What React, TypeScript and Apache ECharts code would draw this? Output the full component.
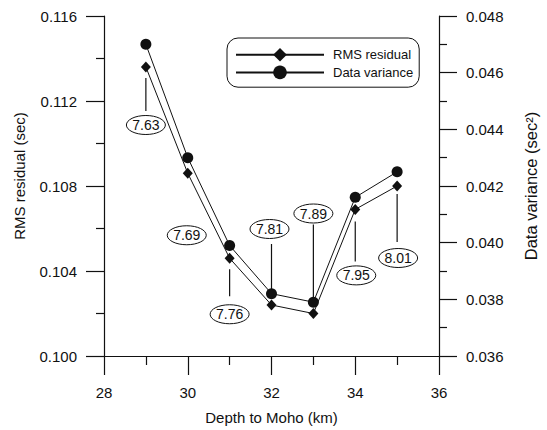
import React, { useEffect, useRef } from "react";
import * as echarts from "echarts";

const depths = [29, 30, 31, 32, 33, 34, 35];
const rmsResidual = [0.1136, 0.1086, 0.1046, 0.1024, 0.102, 0.1069, 0.108];
const dataVariance = [0.047, 0.043, 0.0399, 0.0382, 0.0379, 0.0416, 0.0425];
const velocityLabels = ["7.63", "7.69", "7.76", "7.81", "7.89", "7.95", "8.01"];

const seriesNames = ["RMS residual", "Data variance"];
const xTitle = "Depth to Moho (km)";
const yLeftTitle = "RMS residual (sec)";
const yRightTitle = "Data variance (sec\u00B2)";

// callout layout in pixels relative to the RMS point: [dx, dy, leaderFrom, leaderTo]
const calloutLayout: (number | null)[][] = [
  [0, 58, 11, 44],
  [-1, 62, null, null],
  [0, 56, 11, 38],
  [-2, -76, -61, -14],
  [0, -100, -89, -16],
  [1, 66, 12, 52],
  [1, 72, 8, 56],
];

const FONT = "'Liberation Sans', Arial, Helvetica, sans-serif";
const INK = "#111";

export default function App() {
  const ref = useRef<HTMLDivElement>(null);
  useEffect(() => {
    if (!ref.current) return;
    const chart = echarts.init(ref.current, null, { renderer: "svg" });
    const axisCommon = {
      axisLine: { show: true, onZero: false, lineStyle: { color: INK, width: 1.2 } },
      axisTick: { show: true, inside: false, length: 18, lineStyle: { color: INK, width: 1.2 } },
      minorTick: { show: true, splitNumber: 2, length: 9, lineStyle: { color: INK, width: 1.2 } },
      splitLine: { show: false },
      minorSplitLine: { show: false },
    };
    chart.setOption({
      animation: false,
      backgroundColor: "#fff",
      textStyle: { fontFamily: FONT, color: INK },
      grid: { left: 104, right: 104, top: 16, bottom: 73, containLabel: false },
      legend: {
        data: seriesNames,
        orient: "vertical",
        left: 227,
        top: 38,
        padding: [10, 6, 8, 8],
        itemWidth: 88,
        itemHeight: 17,
        itemGap: 4,
        borderColor: INK,
        borderWidth: 1,
        borderRadius: 11,
        textStyle: { fontSize: 13, color: INK, fontFamily: FONT, padding: [0, 0, 0, 4] },
      },
      xAxis: {
        type: "value",
        min: 28,
        max: 36,
        interval: 2,
        name: xTitle,
        nameLocation: "middle",
        nameGap: 54,
        nameTextStyle: { fontSize: 15, color: INK, fontFamily: FONT },
        axisLabel: { fontSize: 15, color: INK, margin: 29, fontFamily: FONT },
        ...axisCommon,
        axisTick: { show: true, length: 19, lineStyle: { color: INK, width: 1.2 } },
      },
      yAxis: [
        {
          type: "value",
          position: "left",
          min: 0.1,
          max: 0.116,
          interval: 0.004,
          name: yLeftTitle,
          nameLocation: "middle",
          nameGap: 77,
          nameTextStyle: { fontSize: 15, color: INK, fontFamily: FONT, padding: [0, 0, 0, 20] },
          axisLabel: {
            fontSize: 15,
            color: INK,
            margin: 27,
            fontFamily: FONT,
            formatter: (v: number) => v.toFixed(3),
          },
          ...axisCommon,
          minorTick: { show: true, splitNumber: 2, length: 8, lineStyle: { color: INK, width: 1.2 } },
        },
        {
          type: "value",
          position: "right",
          min: 0.036,
          max: 0.048,
          interval: 0.002,
          name: yRightTitle,
          nameLocation: "middle",
          nameGap: 83,
          nameTextStyle: { fontSize: 16.5, color: INK, fontFamily: FONT },
          axisLabel: {
            fontSize: 15,
            color: INK,
            margin: 27,
            fontFamily: FONT,
            formatter: (v: number) => v.toFixed(3),
          },
          ...axisCommon,
          minorTick: { show: true, splitNumber: 2, length: 8, lineStyle: { color: INK, width: 1.2 } },
        },
      ],
      series: [
        {
          name: seriesNames[0],
          type: "line",
          yAxisIndex: 0,
          data: depths.map((d, i) => [d, rmsResidual[i]]),
          symbol: "diamond",
          symbolSize: [10, 11],
          showSymbol: true,
          lineStyle: { color: INK, width: 1 },
          itemStyle: { color: INK },
          z: 3,
        },
        {
          name: seriesNames[1],
          type: "line",
          yAxisIndex: 1,
          data: depths.map((d, i) => [d, dataVariance[i]]),
          symbol: "circle",
          symbolSize: 11,
          showSymbol: true,
          lineStyle: { color: INK, width: 1 },
          itemStyle: { color: INK },
          z: 3,
        },
        {
          type: "custom",
          name: "callouts",
          xAxisIndex: 0,
          yAxisIndex: 0,
          silent: true,
          clip: false,
          z: 4,
          encode: { x: 0, y: 1 },
          data: depths.map((d, i) => [d, rmsResidual[i], i]),
          renderItem: (_params: any, api: any) => {
            const p = api.coord([api.value(0), api.value(1)]);
            const idx = api.value(2) as number;
            const [dx, dy, l0, l1] = calloutLayout[idx] as number[];
            const children: any[] = [];
            if (l0 !== null && l1 !== null) {
              children.push({
                type: "line",
                shape: { x1: p[0], y1: p[1] + l0, x2: p[0], y2: p[1] + l1 },
                style: { stroke: INK, lineWidth: 1.2 },
              });
            }
            children.push({
              type: "ellipse",
              shape: { cx: p[0] + dx, cy: p[1] + dy, rx: 19.5, ry: 9.5 },
              style: { fill: "#fff", stroke: INK, lineWidth: 1 },
            });
            children.push({
              type: "text",
              x: p[0] + dx,
              y: p[1] + dy,
              style: {
                text: velocityLabels[idx],
                fill: INK,
                fontSize: 14,
                fontFamily: FONT,
                align: "center",
                verticalAlign: "middle",
              },
            });
            return { type: "group", children };
          },
        },
      ],
    });
    return () => chart.dispose();
  }, []);
  return (
    <div
      ref={ref}
      style={{ position: "absolute", left: 0, top: 0, width: 547, height: 430, background: "#fff" }}
    />
  );
}
